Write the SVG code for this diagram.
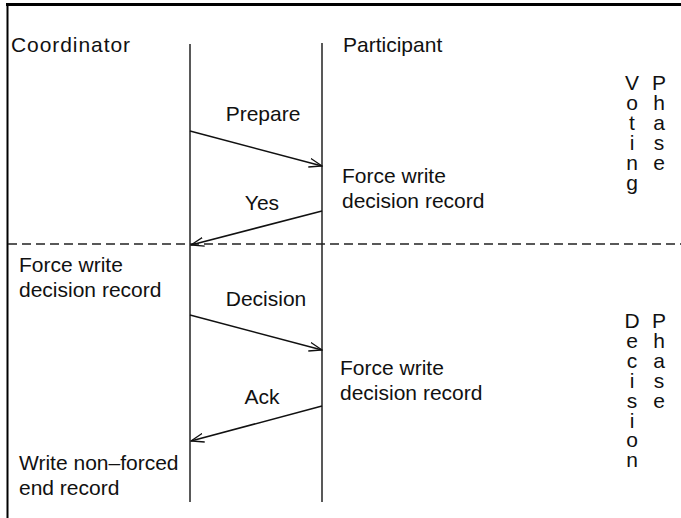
<svg xmlns="http://www.w3.org/2000/svg" width="681" height="518" viewBox="0 0 681 518">
<style>
text{font-family:"Liberation Sans",Arial,sans-serif;font-size:21px;fill:#111}
.c{text-anchor:middle}
.v{writing-mode:vertical-rl;text-orientation:upright;text-anchor:start;letter-spacing:-3.1px}
.ln{stroke:#222;stroke-width:1.5;fill:none}
.ar{stroke:#111;stroke-width:1.5;fill:none;marker-end:url(#ah)}
</style>
<defs>
<marker id="ah" viewBox="0 0 14 10" refX="13" refY="5" markerWidth="14" markerHeight="10" markerUnits="userSpaceOnUse" orient="auto">
<path d="M0,0.5 L13,5 L0,9.5" fill="none" stroke="#111" stroke-width="1.3"/>
</marker>
</defs>
<rect width="681" height="518" fill="#fff"/>
<g id="frame">
<line x1="6" y1="4.5" x2="681" y2="4.5" stroke="#000" stroke-width="3"/>
<line x1="7.5" y1="3" x2="7.5" y2="518" stroke="#000" stroke-width="2"/>
<line x1="8" y1="244" x2="681" y2="244" stroke="#222" stroke-width="1.5" stroke-dasharray="9,5"/>
</g>
<g id="coordinator">
<text x="11" y="52" textLength="119" lengthAdjust="spacing">Coordinator</text>
<line class="ln" x1="190" y1="44" x2="190" y2="502"/>
</g>
<g id="participant">
<text x="343" y="52">Participant</text>
<line class="ln" x1="322" y1="43" x2="322" y2="502"/>
</g>
<g id="connectors">
<line class="ar" x1="190" y1="131" x2="322" y2="166"/>
<line class="ar" x1="322" y1="211" x2="191" y2="245"/>
<line class="ar" x1="190" y1="315" x2="322" y2="350"/>
<line class="ar" x1="322" y1="406" x2="191" y2="441"/>
</g>
<g id="labels">
<text class="c" x="263" y="121">Prepare</text>
<text class="c" x="262" y="210">Yes</text>
<text class="c" x="266" y="306">Decision</text>
<text class="c" x="262" y="404">Ack</text>
</g>
<g id="notes">
<text x="342" y="183">Force write</text>
<text x="342" y="208">decision record</text>
<text x="19" y="272">Force write</text>
<text x="19" y="297">decision record</text>
<text x="340" y="375">Force write</text>
<text x="340" y="400">decision record</text>
<text x="19" y="470">Write non–forced</text>
<text x="19" y="495">end record</text>
</g>
<g id="voting-phase">
<text class="v" x="632" y="71">Voting</text>
<text class="v" x="659" y="71">Phase</text>
</g>
<g id="decision-phase">
<text class="v" x="632" y="309">Decision</text>
<text class="v" x="659" y="309">Phase</text>
</g>
</svg>
